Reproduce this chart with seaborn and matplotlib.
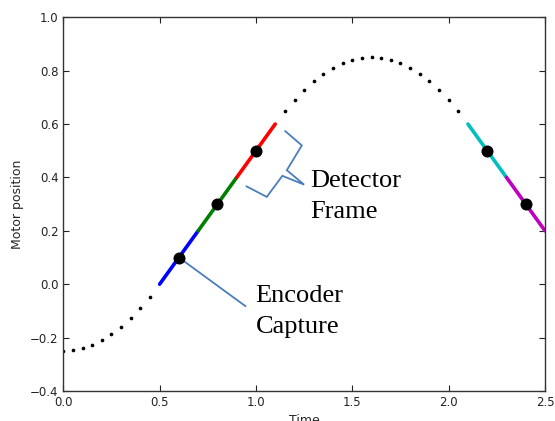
import matplotlib
matplotlib.use("Agg")
import matplotlib.pyplot as plt
import seaborn as sns
import pandas as pd

# dotted approach / turnaround parts of the trajectory
t_start = [0.0, 0.05, 0.1, 0.15, 0.2, 0.25, 0.3, 0.35, 0.4, 0.45]
y_start = [-0.25, -0.2475, -0.24, -0.2275, -0.21, -0.1875, -0.16, -0.1275, -0.09, -0.0475]
t_turn = [1.15, 1.2, 1.25, 1.3, 1.35, 1.4, 1.45, 1.5, 1.55, 1.6,
          1.65, 1.7, 1.75, 1.8, 1.85, 1.9, 1.95, 2.0, 2.05]
y_turn = [0.6475, 0.69, 0.7275, 0.76, 0.7875, 0.81, 0.8275, 0.84, 0.8475, 0.85,
          0.8475, 0.84, 0.8275, 0.81, 0.7875, 0.76, 0.7275, 0.69, 0.6475]

# constant velocity segments (start, end)
seg_t = [(0.5, 0.7), (0.7, 0.9), (0.9, 1.1), (2.1, 2.3), (2.3, 2.5)]
seg_y = [(0.0, 0.2), (0.2, 0.4), (0.4, 0.6), (0.6, 0.4), (0.4, 0.2)]
seg_colors = ["#0000ff", "#008000", "#ff0000", "#00bfbf", "#bf00bf"]

# capture points
cap_t = [0.6, 0.8, 1.0, 2.2, 2.4]
cap_y = [0.1, 0.3, 0.5, 0.5, 0.3]

sns.set_style("ticks", {
    "xtick.direction": "in", "ytick.direction": "in",
    "axes.edgecolor": "#333333",
})
plt.rcParams["font.family"] = ["DejaVu Sans"]

fig = plt.figure(figsize=(5.55, 4.21), dpi=100)
ax = fig.add_axes([0.114, 0.0713, 0.868, 0.8877])

dots = pd.DataFrame({"t": t_start + t_turn, "y": y_start + y_turn})
sns.scatterplot(data=dots, x="t", y="y", color="black", s=7, linewidth=0, ax=ax)

for (t0, t1), (y0, y1), c in zip(seg_t, seg_y, seg_colors):
    seg = pd.DataFrame({"t": [t0, t1], "y": [y0, y1]})
    sns.lineplot(data=seg, x="t", y="y", color=c, linewidth=2.6, ax=ax)

caps = pd.DataFrame({"t": cap_t, "y": cap_y})
sns.scatterplot(data=caps, x="t", y="y", color="black", s=75, linewidth=0,
                zorder=5, ax=ax)

ax.set_xlim(0, 2.5)
ax.set_ylim(-0.4, 1.0)
ax.set_xticks([0.0, 0.5, 1.0, 1.5, 2.0, 2.5])
ax.set_yticks([-0.4, -0.2, 0.0, 0.2, 0.4, 0.6, 0.8, 1.0])
ax.tick_params(direction="in", top=True, right=True, length=4, width=0.8,
               labelsize=8.5, colors="#222222")
for sp in ax.spines.values():
    sp.set_linewidth(1.0)
ax.set_xlabel("Time", fontsize=9)
ax.set_ylabel("Motor position", fontsize=9)

# annotations (callout drawn on top)
note_col = "#4a7ebb"
brace_t = [1.151, 1.238, 1.160, 1.250, 1.137, 1.056, 0.950]
brace_y = [0.574, 0.520, 0.427, 0.373, 0.406, 0.327, 0.367]
ax.plot(brace_t, brace_y, color=note_col, lw=1.3, solid_joinstyle="miter")
ax.plot([0.6, 0.946], [0.1, -0.0825], color=note_col, lw=1.3, zorder=4)

serif = ["Liberation Serif", "DejaVu Serif"]
ax.text(1.281, 0.249, "Detector\nFrame", family=serif, fontsize=19,
        color="black", ha="left", va="baseline", linespacing=1.52)
ax.text(0.998, -0.182, "Encoder\nCapture", family=serif, fontsize=19,
        color="black", ha="left", va="baseline", linespacing=1.52)

fig.savefig("out.png", dpi=100)
